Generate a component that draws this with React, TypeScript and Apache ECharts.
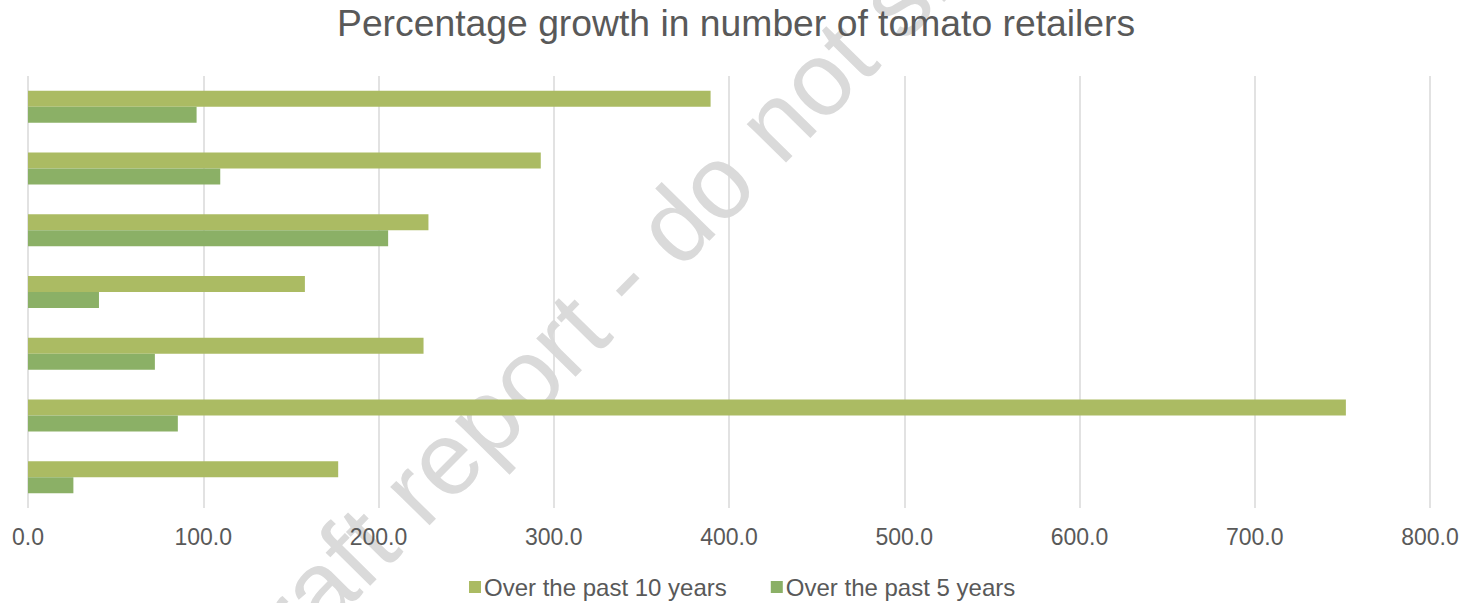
import React, { useEffect, useRef } from "react";
import * as echarts from "echarts";

const categories = ["Group A", "Group B", "Group C", "Group D", "Group E", "Group F", "Group G"];
const seriesNames = ["Over the past 10 years", "Over the past 5 years"];
const tenYears = [389.5, 292.6, 228.5, 158.0, 225.7, 752.0, 177.0];
const fiveYears = [96.2, 109.7, 205.5, 40.5, 72.4, 85.5, 25.9];
const titleText = "Percentage growth in number of tomato retailers";
const watermarkText = "Draft report - do not share";

export default function App() {
  const ref = useRef<HTMLDivElement>(null);
  useEffect(() => {
    if (!ref.current) return;
    const chart = echarts.init(ref.current, null, { renderer: "svg" });
    const font = "'Liberation Sans', Arial, sans-serif";
    chart.setOption({
      animation: false,
      backgroundColor: "#ffffff",
      title: {
        text: titleText,
        left: 337,
        top: 4,
        padding: 0,
        textStyle: { fontSize: 37.3, fontWeight: "normal", color: "#595959", fontFamily: font },
      },
      graphic: [
        {
          type: "text",
          x: 640,
          y: 260,
          rotation: (45.5 * Math.PI) / 180,
          z: -10,
          silent: true,
          style: {
            text: watermarkText,
            fill: "#dadada",
            font: `104px ${font}`,
            textAlign: "center",
            textVerticalAlign: "middle",
          },
        },
      ],
      legend: {
        bottom: -1,
        left: 464,
        itemWidth: 12,
        itemHeight: 12,
        itemGap: 44,
        icon: "rect",
        data: seriesNames,
        textStyle: { fontSize: 24, color: "#595959", fontFamily: font, padding: [0, 0, 0, -2] },
      },
      grid: { left: 28, right: 35, top: 76, bottom: 95, containLabel: false },
      xAxis: {
        type: "value",
        min: 0,
        max: 800,
        interval: 100,
        axisLine: { show: false },
        axisTick: { show: false },
        splitLine: { lineStyle: { color: "#d9d9d9", width: 1.5 } },
        axisLabel: {
          margin: 17,
          fontSize: 23,
          color: "#595959",
          fontFamily: font,
          formatter: (v: number) => v.toFixed(1),
        },
      },
      yAxis: {
        type: "category",
        data: categories,
        inverse: true,
        axisLine: { show: false },
        axisTick: { show: false },
        axisLabel: { show: false },
      },
      series: [
        {
          name: seriesNames[0],
          type: "bar",
          data: tenYears,
          barWidth: 16,
          barGap: "0%",
          itemStyle: { color: "#abbb63" },
        },
        {
          name: seriesNames[1],
          type: "bar",
          data: fiveYears,
          barWidth: 16,
          barGap: "0%",
          itemStyle: { color: "#8bb066" },
        },
      ],
    });
    return () => chart.dispose();
  }, []);
  return (
    <div
      ref={ref}
      style={{ position: "fixed", left: 0, top: 0, width: 1465, height: 603, background: "#fff" }}
    />
  );
}
